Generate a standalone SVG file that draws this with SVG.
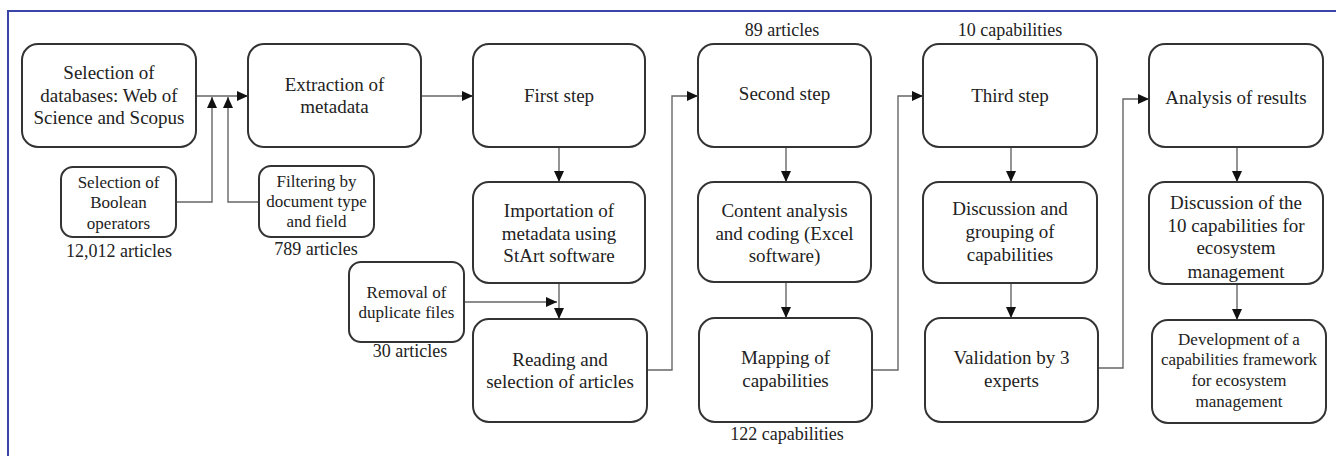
<svg xmlns="http://www.w3.org/2000/svg" width="1337" height="456" viewBox="0 0 1337 456">
<defs>
<style>
.b{fill:#fff;stroke:#333;stroke-width:2}
text{fill:#222;text-anchor:middle}
.m{font-size:19px}
.s{font-size:17px}
.l{font-size:18px}
.c{fill:none;stroke:#666;stroke-width:1.4}
</style>
<marker id="ah" markerUnits="userSpaceOnUse" markerWidth="11" markerHeight="10" refX="11" refY="5" orient="auto">
<path d="M0,0 L11,5 L0,10 z" fill="#111"/>
</marker>
</defs>
<rect width="1337" height="456" fill="#fff"/>
<path d="M8,456 V11 H1336" fill="none" stroke="#3b44a8" stroke-width="2"/>

<g id="connectors">
<path class="c" d="M196,96 H248" marker-end="url(#ah)"/>
<path class="c" d="M176,202 H212 V97" marker-end="url(#ah)"/>
<path class="c" d="M259,202 H228 V97" marker-end="url(#ah)"/>
<path class="c" d="M421,96 H473" marker-end="url(#ah)"/>
<path class="c" d="M559,147 V182" marker-end="url(#ah)"/>
<path class="c" d="M559,283 V319" marker-end="url(#ah)"/>
<path class="c" d="M464,302 H557" marker-end="url(#ah)"/>
<path class="c" d="M647,370 H672 V96 H698" marker-end="url(#ah)"/>
<path class="c" d="M786,147 V182" marker-end="url(#ah)"/>
<path class="c" d="M786,282 V318" marker-end="url(#ah)"/>
<path class="c" d="M872,370 H898 V96 H923" marker-end="url(#ah)"/>
<path class="c" d="M1011,147 V182" marker-end="url(#ah)"/>
<path class="c" d="M1011,283 V318" marker-end="url(#ah)"/>
<path class="c" d="M1098,368 H1123 V99 H1149" marker-end="url(#ah)"/>
<path class="c" d="M1237,147 V182" marker-end="url(#ah)"/>
<path class="c" d="M1237,284 V320" marker-end="url(#ah)"/>
</g>

<g id="databases" font-family="Liberation Serif">
<rect class="b" x="22" y="44" width="174" height="103" rx="16"/>
<text class="m" x="109" y="79">Selection of</text>
<text class="m" x="109" y="101.5">databases: Web of</text>
<text class="m" x="109" y="124">Science and Scopus</text>
</g>
<g id="extraction" font-family="Liberation Serif">
<rect class="b" x="248" y="44" width="173" height="103" rx="16"/>
<text class="m" x="334.5" y="91">Extraction of</text>
<text class="m" x="334.5" y="113">metadata</text>
</g>
<g id="boolean" font-family="Liberation Serif">
<rect class="b" x="61" y="167" width="115" height="70" rx="12"/>
<text class="s" x="118.5" y="188">Selection of</text>
<text class="s" x="118.5" y="208">Boolean</text>
<text class="s" x="118.5" y="229">operators</text>
<text class="l" x="119" y="257">12,012 articles</text>
</g>
<g id="filtering" font-family="Liberation Serif">
<rect class="b" x="259" y="166" width="115" height="71" rx="12"/>
<text class="s" x="316.5" y="187">Filtering by</text>
<text class="s" x="316.5" y="207">document type</text>
<text class="s" x="316.5" y="227">and field</text>
<text class="l" x="316" y="255">789 articles</text>
</g>
<g id="removal" font-family="Liberation Serif">
<rect class="b" x="349" y="262" width="115" height="80" rx="12"/>
<text class="s" x="406.5" y="298">Removal of</text>
<text class="s" x="406.5" y="318">duplicate files</text>
<text class="l" x="410" y="357">30 articles</text>
</g>
<g id="first" font-family="Liberation Serif">
<rect class="b" x="473" y="44" width="172" height="103" rx="16"/>
<text class="m" x="559" y="101.5">First step</text>
</g>
<g id="importation" font-family="Liberation Serif">
<rect class="b" x="473" y="182" width="172" height="101" rx="16"/>
<text class="m" x="559" y="217">Importation of</text>
<text class="m" x="559" y="240">metadata using</text>
<text class="m" x="559" y="262">StArt software</text>
</g>
<g id="reading" font-family="Liberation Serif">
<rect class="b" x="473" y="319" width="174" height="103" rx="16"/>
<text class="m" x="560" y="366">Reading and</text>
<text class="m" x="560" y="388">selection of articles</text>
</g>
<g id="second" font-family="Liberation Serif">
<rect class="b" x="698" y="44" width="173" height="103" rx="16"/>
<text class="l" x="782" y="36">89 articles</text>
<text class="m" x="784.5" y="100">Second step</text>
</g>
<g id="content" font-family="Liberation Serif">
<rect class="b" x="698" y="182" width="173" height="100" rx="16"/>
<text class="m" x="784.5" y="217">Content analysis</text>
<text class="m" x="784.5" y="240">and coding (Excel</text>
<text class="m" x="784.5" y="262">software)</text>
</g>
<g id="mapping" font-family="Liberation Serif">
<rect class="b" x="699" y="318" width="173" height="104" rx="16"/>
<text class="m" x="785.5" y="364">Mapping of</text>
<text class="m" x="785.5" y="387">capabilities</text>
<text class="l" x="787" y="440">122 capabilities</text>
</g>
<g id="third" font-family="Liberation Serif">
<rect class="b" x="923" y="44" width="174" height="103" rx="16"/>
<text class="l" x="1010" y="36">10 capabilities</text>
<text class="m" x="1010" y="101.5">Third step</text>
</g>
<g id="grouping" font-family="Liberation Serif">
<rect class="b" x="923" y="182" width="174" height="101" rx="16"/>
<text class="m" x="1010" y="215">Discussion and</text>
<text class="m" x="1010" y="238">grouping of</text>
<text class="m" x="1010" y="261">capabilities</text>
</g>
<g id="validation" font-family="Liberation Serif">
<rect class="b" x="925" y="318" width="173" height="104" rx="16"/>
<text class="m" x="1011.5" y="364">Validation by 3</text>
<text class="m" x="1011.5" y="387">experts</text>
</g>
<g id="analysis" font-family="Liberation Serif">
<rect class="b" x="1149" y="44" width="174" height="103" rx="16"/>
<text class="m" x="1236" y="104">Analysis of results</text>
</g>
<g id="discussion10" font-family="Liberation Serif">
<rect class="b" x="1149" y="182" width="174" height="102" rx="16"/>
<text class="m" x="1236" y="209">Discussion of the</text>
<text class="m" x="1236" y="232">10 capabilities for</text>
<text class="m" x="1236" y="254">ecosystem</text>
<text class="m" x="1236" y="278">management</text>
</g>
<g id="development" font-family="Liberation Serif">
<rect class="b" x="1152" y="320" width="174" height="103" rx="16"/>
<text class="s" x="1239" y="345">Development of a</text>
<text class="s" x="1239" y="365">capabilities framework</text>
<text class="s" x="1239" y="386">for ecosystem</text>
<text class="s" x="1239" y="407">management</text>
</g>
</svg>
